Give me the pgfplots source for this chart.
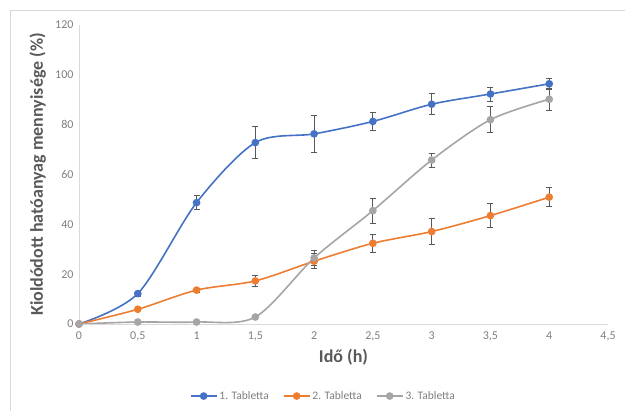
\documentclass[border=0pt]{standalone}
\usepackage{fontspec}
\setmainfont{Carlito}
\usepackage{pgfplots}
\pgfplotsset{compat=1.18}

\definecolor{tabBlue}{HTML}{4472C4}
\definecolor{tabOrange}{HTML}{ED7D31}
\definecolor{tabGray}{HTML}{A5A5A5}
\definecolor{errGray}{HTML}{595959}
\definecolor{tickGray}{HTML}{7F7F7F}
\definecolor{axGray}{HTML}{D9D9D9}

\newcommand{\tickfont}{\fontsize{12}{13}\selectfont}

\begin{document}
\begin{tikzpicture}
\useasboundingbox (-79pt,-87pt) rectangle (546pt,324pt);
\draw[axGray,line width=0.8pt] (-69pt,-87pt) -- (-69pt,314pt) -- (546pt,314pt);
\begin{axis}[
  scale only axis, width=529pt, height=299pt,
  xmin=0, xmax=4.5, ymin=0, ymax=120,
  xtick={0,0.5,...,4.5}, ytick={0,20,...,120},
  axis x line=bottom, axis y line=left,
  axis line style={axGray, line width=0.8pt, -},
  major tick length=0pt,
  /pgf/number format/assume math mode=true,
  /pgf/number format/use comma,
  xticklabel={\tickfont\pgfmathprintnumber{\tick}},
  yticklabel={\tickfont\pgfmathprintnumber{\tick}},
  tick label style={text=tickGray},
  xticklabel style={yshift=-4pt},
  yticklabel style={xshift=-2pt},
  xlabel={Idő (h)},
  ylabel={Kioldódott hatóanyag mennyisége (\%)},
  label style={font=\bfseries\fontsize{18}{20}\selectfont, text=errGray},
  xlabel style={at={(axis description cs:0.5,-0.11)}, anchor=center},
  ylabel style={at={(axis description cs:-0.078,0.5)}, anchor=center},
  legend style={at={(axis description cs:0.462,-0.241)}, anchor=center, draw=none,
    font=\fontsize{11.5}{12}\selectfont, text=tickGray, column sep=0pt,
    /tikz/every even column/.append style={column sep=12pt},
    nodes={inner xsep=2pt}},
  legend columns=3,
  legend image code/.code={
    \draw[mark repeat=2, mark phase=2] plot coordinates {(0pt,0pt) (13pt,0pt) (26pt,0pt)};},
  every axis plot/.append style={line width=1.6pt, smooth, tension=0.5,
    mark=*, mark size=3pt},
  error bars/y dir=both, error bars/y explicit,
  error bars/error bar style={errGray, line width=0.8pt, solid},
  error bars/error mark options={rotate=90, mark size=3pt, errGray, line width=0.8pt},
]
\addplot[tabBlue, mark options={fill=tabBlue, draw=tabBlue}] coordinates {
  (0,0) +- (0,0)
  (0.5,12.2) +- (0,1.0)
  (1,48.7) +- (0,2.9)
  (1.5,72.8) +- (0,6.4)
  (2,76.3) +- (0,7.6)
  (2.5,81.3) +- (0,3.6)
  (3,88.2) +- (0,4.2)
  (3.5,92.3) +- (0,2.8)
  (4,96.4) +- (0,2.2)
};
\addlegendentry{1. Tabletta}
\addplot[tabOrange, mark options={fill=tabOrange, draw=tabOrange}] coordinates {
  (0,0) +- (0,0)
  (0.5,5.9) +- (0,0.5)
  (1,13.6) +- (0,0.8)
  (1.5,17.3) +- (0,2.2)
  (2,25.2) +- (0,3.0)
  (2.5,32.4) +- (0,3.5)
  (3,37.1) +- (0,5.1)
  (3.5,43.5) +- (0,4.9)
  (4,50.9) +- (0,3.9)
};
\addlegendentry{2. Tabletta}
\addplot[tabGray, mark options={fill=tabGray, draw=tabGray}] coordinates {
  (0,0) +- (0,0)
  (0.5,0.8) +- (0,0.3)
  (1,0.8) +- (0,0.3)
  (1.5,2.8) +- (0,0.5)
  (2,26.5) +- (0,3.0)
  (2.5,45.5) +- (0,5.0)
  (3,65.8) +- (0,2.8)
  (3.5,82.0) +- (0,5.3)
  (4,90.2) +- (0,4.3)
};
\addlegendentry{3. Tabletta}
\end{axis}
\end{tikzpicture}
\end{document}
